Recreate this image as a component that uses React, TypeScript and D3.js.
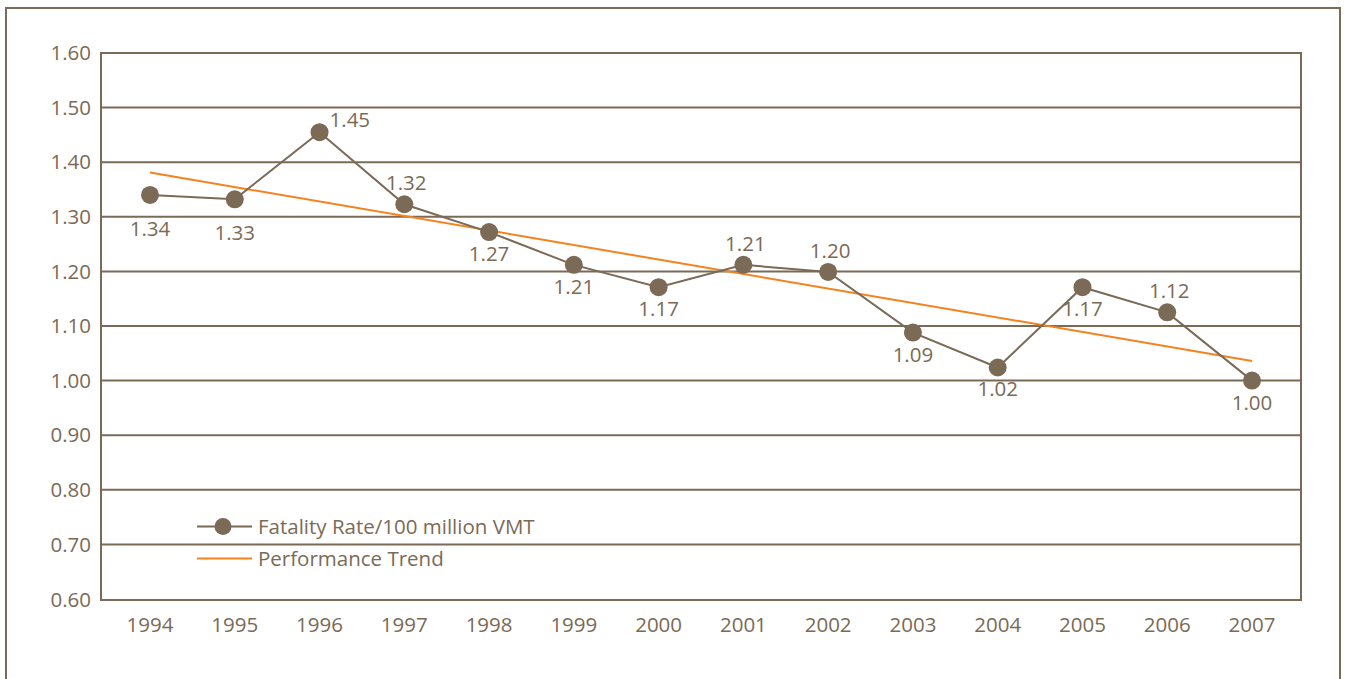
import React from "react";
import * as d3 from "d3";

const years = ["1994","1995","1996","1997","1998","1999","2000","2001","2002","2003","2004","2005","2006","2007"];
const fatalityRate = [1.34, 1.332, 1.455, 1.323, 1.272, 1.212, 1.171, 1.212, 1.199, 1.088, 1.024, 1.171, 1.125, 1.0];
const valueLabels = ["1.34","1.33","1.45","1.32","1.27","1.21","1.17","1.21","1.20","1.09","1.02","1.17","1.12","1.00"];
const labelPlacement = ["belowFar","belowFar","right","above","below","below","below","above","above","below","below","below","above","below"];
const trendYears = ["1994", "2007"];
const trendValues = [1.381, 1.036];
const yTicks = [0.6, 0.7, 0.8, 0.9, 1.0, 1.1, 1.2, 1.3, 1.4, 1.5, 1.6];
const legendLabels = ["Fatality Rate/100 million VMT", "Performance Trend"];

const BROWN = "#7b6a56";
const ORANGE = "#f5821f";
const FONT = "'Open Sans', sans-serif";
const FS = 20.5;

export default function App() {
  const W = 1346, H = 679;
  const plot = { left: 101, right: 1301, top: 53, bottom: 600 };
  const x = d3.scalePoint<string>().domain(years).range([150, 1252]);
  const y = d3.scaleLinear().domain([0.6, 1.6]).range([599, 53]);
  const line = d3.line<number>().x((_, i) => x(years[i])!).y(d => y(d));
  const trend = d3.line<number>().x((_, i) => x(trendYears[i])!).y(d => y(d));

  const labelPos = (i: number) => {
    const px = x(years[i])!, py = y(fatalityRate[i]);
    const p = labelPlacement[i];
    if (p === "right") return { x: px + 10, y: py - 5, anchor: "start" };
    if (p === "above") return { x: px + 2, y: py - 14, anchor: "middle" };
    if (p === "belowFar") return { x: px, y: py + 41, anchor: "middle" };
    return { x: px, y: py + 29, anchor: "middle" };
  };

  return (
    <svg width={W} height={H} style={{ position: "absolute", left: 0, top: 0, background: "#fff" }}
      fontFamily={FONT}>
      <path d={`M6,${H + 5} V8 H1340 V${H + 5}`} fill="none" stroke={BROWN} strokeWidth={2} />
      {yTicks.map(t => (
        <line key={t} x1={plot.left} x2={plot.right} y1={t === 0.6 ? plot.bottom : y(t)} y2={t === 0.6 ? plot.bottom : y(t)}
          stroke={BROWN} strokeWidth={2} />
      ))}
      <rect x={plot.left} y={plot.top} width={plot.right - plot.left} height={plot.bottom - plot.top}
        fill="none" stroke={BROWN} strokeWidth={2} />
      {yTicks.map(t => (
        <text key={t} x={91} y={t === 0.6 ? plot.bottom : y(t)} dy="0.35em" textAnchor="end" fontSize={FS} fill={BROWN}>
          {t.toFixed(2)}
        </text>
      ))}
      {years.map(yr => (
        <text key={yr} x={x(yr)} y={632} textAnchor="middle" fontSize={FS} fill={BROWN}>{yr}</text>
      ))}
      <path d={trend(trendValues)!} fill="none" stroke={ORANGE} strokeWidth={2} />
      <path d={line(fatalityRate)!} fill="none" stroke={BROWN} strokeWidth={2} />
      {fatalityRate.map((v, i) => (
        <circle key={i} cx={x(years[i])} cy={y(v)} r={9} fill={BROWN} />
      ))}
      {valueLabels.map((lab, i) => {
        const p = labelPos(i);
        return <text key={i} x={p.x} y={p.y} textAnchor={p.anchor as any} fontSize={FS} fill={BROWN}>{lab}</text>;
      })}
      <line x1={197} x2={252} y1={526.5} y2={526.5} stroke={BROWN} strokeWidth={2} />
      <circle cx={223} cy={526.5} r={8.5} fill={BROWN} />
      <text x={258} y={534} fontSize={FS} fill={BROWN}>{legendLabels[0]}</text>
      <line x1={197} x2={252} y1={558.5} y2={558.5} stroke={ORANGE} strokeWidth={2} />
      <text x={258} y={566} fontSize={FS} fill={BROWN}>{legendLabels[1]}</text>
    </svg>
  );
}
